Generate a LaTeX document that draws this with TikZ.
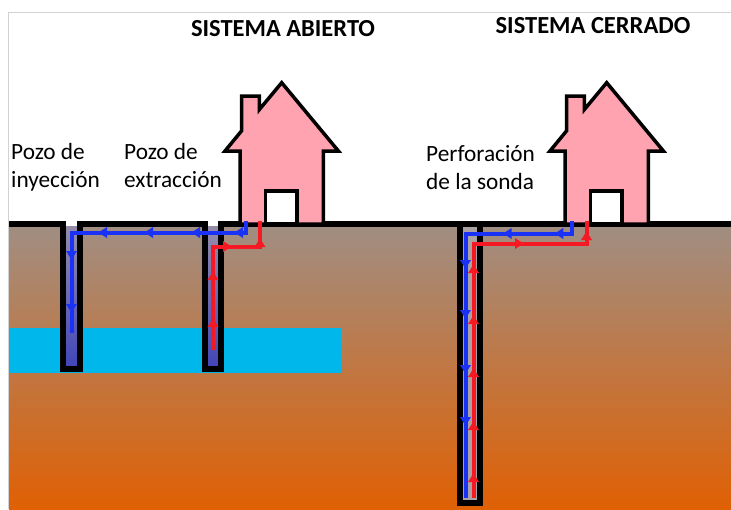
\documentclass[tikz,border=0pt]{standalone}
\usepackage{fontspec}
\setmainfont{Carlito}
\usepackage{tikz}
\usetikzlibrary{arrows.meta, decorations.markings}
\usepackage{xcolor}
\definecolor{tierraArriba}{RGB}{160,142,130}
\definecolor{tierraAbajo}{RGB}{224,96,4}
\definecolor{agua}{RGB}{0,183,235}
\definecolor{casa}{RGB}{255,163,177}
\definecolor{pozoArriba}{RGB}{150,140,168}
\definecolor{pozoAbajo}{RGB}{65,70,185}
\definecolor{sonda}{RGB}{170,162,162}
\definecolor{tuboAzul}{RGB}{25,50,245}
\definecolor{tuboRojo}{RGB}{245,25,35}

\tikzset{flecha/.tip={Latex[length=10pt,width=12pt]}}
\pgfkeys{/pgf/decoration/flechaen/.style={mark=at position #1 with {\arrow{flecha}}}}

\begin{document}
\begin{tikzpicture}[x=1pt, y=-1pt,
    borde/.style={line width=5.5pt, line join=miter},
    casita/.style={fill=casa, draw=black, line width=3.5pt, line join=miter},
    tubo/.style={line width=4pt, postaction={decorate}},
    etiqueta/.style={font=\fontsize{23.3}{28}\selectfont, align=left, inner sep=0pt, anchor=north west},
    titulo/.style={font=\fontsize{24.5}{28}\selectfont\bfseries, inner sep=0pt, anchor=base}]
    \useasboundingbox (0,0) rectangle (731,509);
    % marco
    \draw[gray!35, line width=1pt] (8.5,509) -- (8.5,12.5) -- (731,12.5);

    % terreno y acuifero
    \shade[top color=tierraArriba, bottom color=tierraAbajo] (9,226) rectangle (731,509);
    \fill[agua] (9,328) rectangle (341,373);

    % interior de los pozos y de la sonda
    \shade[top color=pozoArriba, bottom color=pozoAbajo] (65,226) rectangle (78,367);
    \shade[top color=pozoArriba, bottom color=pozoAbajo] (207,226) rectangle (219,367);
    \fill[sonda] (460,226) rectangle (480,503);

    % superficie y paredes
    \draw[borde] (9,224) -- (63,224) -- (63,369) -- (80,369) -- (80,224) -- (205,224)
        -- (205,369) -- (221,369) -- (221,224) -- (731,224);
    \draw[borde] (460,224) -- (460,503) -- (480,503) -- (480,224);

    % casas
    \foreach \dx in {240, 565} {
        \begin{scope}[shift={(\dx,224)}]
            \draw[casita] (0,0) -- (0,-73) -- (-15,-73) -- (1.7,-93.3) -- (1.7,-128)
                -- (19.3,-128) -- (19.3,-114.4) -- (41.7,-141.3) -- (98.4,-73)
                -- (83.3,-73) -- (83.3,0) -- cycle;
            \draw[fill=white, line width=3.5pt] (25.5,0) rectangle (57,-33);
        \end{scope}
    }

    % sistema abierto
    \draw[tubo, tuboAzul, decoration={markings, flechaen/.list={24.5pt,67.5pt,114.5pt,160.5pt,214.5pt,267.5pt}}]
        (246,221) -- (246,232.5) -- (71.5,232.5) -- (71.5,333);
    \draw[tubo, tuboRojo, decoration={markings, flechaen/.list={33pt,80pt,123.5pt,160pt}}]
        (213,350) -- (213,246.5) -- (260,246.5) -- (260,221);

    % sistema cerrado
    \draw[tubo, tuboAzul, decoration={markings, flechaen/.list={30.7pt,82.3pt,155pt,205pt,260pt,312pt}}]
        (571.5,221) -- (571.5,233.5) -- (465.5,233.5) -- (465.5,498);
    \draw[tubo, tuboRojo, decoration={markings, flechaen/.list={26pt,78pt,131pt,184pt,235pt,306pt,381pt}}]
        (473.5,498) -- (473.5,243.5) -- (586.5,243.5) -- (586.5,221);

    % textos
    \node[titulo] (abierto) at (283,36) {SISTEMA ABIERTO};
    \node[titulo] (cerrado) at (593,33) {SISTEMA CERRADO};
    \node[etiqueta] (inyeccion) at (11,143) {Pozo de\\inyección};
    \node[etiqueta] (extraccion) at (124,143) {Pozo de\\extracción};
    \node[etiqueta] (sondaTxt) at (426,145) {Perforación\\de la sonda};
\end{tikzpicture}
\end{document}
